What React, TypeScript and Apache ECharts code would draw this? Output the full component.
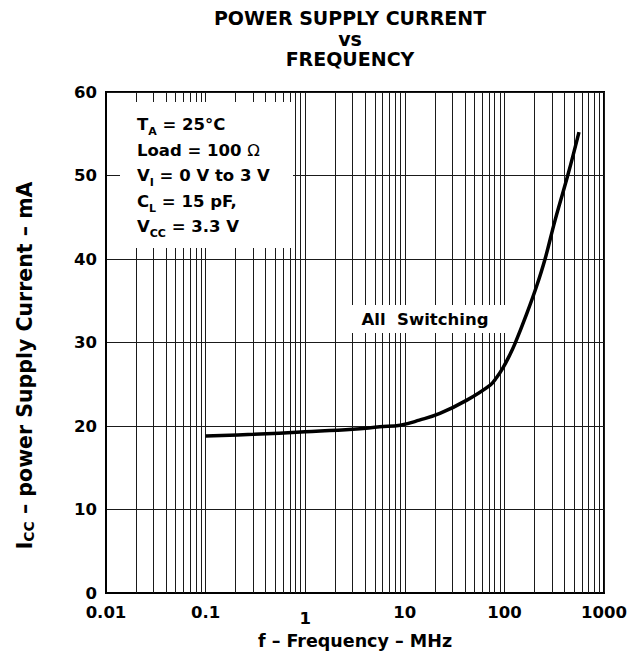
import React, { useEffect, useRef } from "react";
import * as echarts from "echarts";

const FONT = "'DejaVu Sans', 'Liberation Sans', sans-serif";

// Data
const freqMHz = [0.1, 0.3, 1, 3, 5.6, 9, 14, 22.5, 42, 72, 83.5, 97, 112, 128, 167, 210, 256, 322, 437, 561];
const iccMA = [18.8, 19.0, 19.3, 19.6, 19.9, 20.1, 20.7, 21.5, 23.1, 24.9, 25.8, 27.0, 28.4, 29.9, 33.4, 36.7, 40.0, 44.6, 50.2, 55.2];

const xTickLabels = ["0.01", "0.1", "1", "10", "100", "1000"];
const yTickLabels = ["0", "10", "20", "30", "40", "50", "60"];
const decadeExponents = [-2, -1, 0, 1, 2];
const minorMultipliers = [2, 3, 4, 5, 6, 7, 8, 9];

const titleText = "POWER SUPPLY CURRENT\nvs\nFREQUENCY";
const xName = "f – Frequency – MHz";
const conditionLines = [
  "{b|T}{s|A}{b| = 25°C}",
  "{b|Load = 100 }{o|Ω}",
  "{b|V}{s|I}{b| = 0 V to 3 V}",
  "{b|C}{s|L}{b| = 15 pF,}",
  "{b|V}{s|CC}{b| = 3.3 V}",
];
const curveLabel = "All  Switching";

export default function App() {
  const ref = useRef<HTMLDivElement>(null);
  useEffect(() => {
    if (!ref.current) return;
    const chart = echarts.init(ref.current, undefined, { renderer: "svg" });
    const minorLines: { xAxis: number }[] = [];
    decadeExponents.forEach((e) => {
      minorMultipliers.forEach((m) => {
        minorLines.push({ xAxis: Number((m * Math.pow(10, e)).toPrecision(3)) });
      });
    });
    const gridColor = "#1a1a1a";
    const option: any = {
      animation: false,
      backgroundColor: "#fff",
      title: {
        text: titleText,
        left: 350,
        top: 8,
        textAlign: "center",
        padding: 0,
        textStyle: {
          fontFamily: FONT,
          fontWeight: "bold",
          fontSize: 19,
          lineHeight: 20.5,
          color: "#000",
        },
      },
      grid: {
        left: 106,
        right: 38,
        top: 92,
        bottom: 67,
        show: true,
        borderColor: "#000",
        borderWidth: 2,
        backgroundColor: "transparent",
      },
      xAxis: {
        type: "log",
        logBase: 10,
        min: 0.01,
        max: 1000,
        name: xName,
        nameLocation: "middle",
        nameGap: 38,
        nameTextStyle: {
          fontFamily: FONT,
          fontWeight: "bold",
          fontSize: 17.5,
          color: "#000",
        },
        axisLine: { show: true, lineStyle: { color: "#000", width: 2 } },
        axisTick: { show: false },
        splitLine: { show: true, lineStyle: { color: gridColor, width: 1 } },
        axisLabel: {
          margin: 11,
          formatter: (v: number) => {
            const i = Math.round(Math.log10(v)) + 2;
            const t = xTickLabels[i] ?? "";
            return i === 2 ? `{low|${t}}` : `{n|${t}}`;
          },
          rich: {
            n: { fontFamily: FONT, fontWeight: "bold", fontSize: 16.5, color: "#000" },
            low: {
              fontFamily: FONT,
              fontWeight: "bold",
              fontSize: 16.5,
              color: "#000",
              padding: [6, 0, 0, 0],
            },
          },
        },
      },
      yAxis: {
        type: "value",
        min: 0,
        max: 60,
        interval: 10,
        name: "{b|I}{s|CC}{b| – power Supply Current – mA}",
        nameLocation: "middle",
        nameRotate: 90,
        nameGap: 70,
        nameTextStyle: {
          padding: [0, 46, 0, 0],
          rich: {
            b: { fontFamily: FONT, fontWeight: "bold", fontSize: 20.5, lineHeight: 23, color: "#000" },
            s: {
              fontFamily: FONT,
              fontWeight: "bold",
              fontSize: 14,
              lineHeight: 14,
              verticalAlign: "bottom",
              color: "#000",
            },
          },
        },
        axisLine: { show: true, lineStyle: { color: "#000", width: 2 } },
        axisTick: { show: false },
        splitLine: { show: true, lineStyle: { color: gridColor, width: 1 } },
        axisLabel: {
          margin: 9,
          fontFamily: FONT,
          fontWeight: "bold",
          fontSize: 16.5,
          color: "#000",
          formatter: (v: number) => yTickLabels[Math.round(v / 10)] ?? "",
        },
      },
      series: [
        {
          type: "line",
          data: [],
          z: 1,
          silent: true,
          markLine: {
            silent: true,
            symbol: "none",
            label: { show: false },
            lineStyle: { color: gridColor, width: 1, type: "solid" },
            emphasis: { disabled: true },
            data: minorLines,
          },
        },
        {
          type: "line",
          z: 5,
          data: freqMHz.map((f, i) => [f, iccMA[i]]),
          showSymbol: false,
          smooth: 0.4,
          lineStyle: { color: "#000", width: 3.5 },
          silent: true,
        },
      ],
      graphic: [
        {
          type: "rect",
          z: 50,
          shape: { x: 120, y: 102, width: 173, height: 146 },
          style: { fill: "#fff" },
        },
        {
          type: "text",
          z: 51,
          left: 137,
          top: 116,
          style: {
            text: conditionLines.join("\n"),
            fill: "#000",
            rich: {
              b: { fontFamily: FONT, fontWeight: "bold", fontSize: 16.5, lineHeight: 25.5, fill: "#000" },
              s: {
                fontFamily: FONT,
                fontWeight: "bold",
                fontSize: 11,
                lineHeight: 14,
                verticalAlign: "bottom",
                fill: "#000",
              },
              o: { fontFamily: FONT, fontWeight: "normal", fontSize: 16.5, lineHeight: 25.5, fill: "#000" },
            },
          },
        },
        {
          type: "rect",
          z: 50,
          shape: { x: 338, y: 305, width: 167, height: 28 },
          style: { fill: "#fff" },
        },
        {
          type: "text",
          z: 51,
          x: 425,
          y: 319,
          style: {
            text: curveLabel,
            fill: "#000",
            fontFamily: FONT,
            fontWeight: "bold",
            fontSize: 16.5,
            align: "center",
            verticalAlign: "middle",
            textAlign: "center",
            textVerticalAlign: "middle",
          },
        },
      ],
    };
    chart.setOption(option);
    return () => chart.dispose();
  }, []);
  return (
    <div
      ref={ref}
      style={{ position: "absolute", left: 0, top: 0, width: 642, height: 660 }}
    />
  );
}
